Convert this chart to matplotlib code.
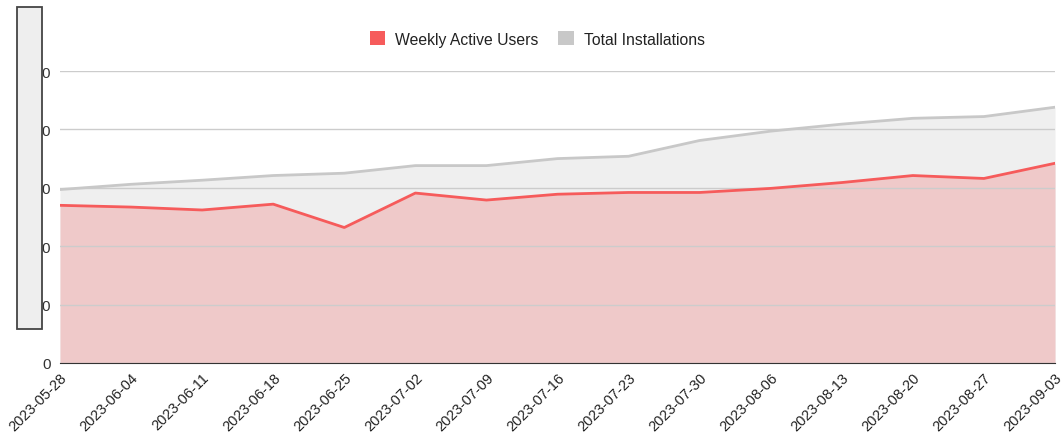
import numpy as np
import pandas as pd
import matplotlib
matplotlib.use("Agg")
from matplotlib import pyplot as plt
from matplotlib.patches import Patch, Rectangle

plt.rcParams["font.family"] = ["Liberation Sans", "DejaVu Sans"]

weeks = ["2023-05-28", "2023-06-04", "2023-06-11", "2023-06-18", "2023-06-25",
         "2023-07-02", "2023-07-09", "2023-07-16", "2023-07-23", "2023-07-30",
         "2023-08-06", "2023-08-13", "2023-08-20", "2023-08-27", "2023-09-03"]
weekly_active = [270, 267, 262, 272, 232, 291, 279, 289, 292, 292, 299, 309, 321, 316, 342]
total_installs = [297, 306, 313, 321, 325, 338, 338, 350, 354, 381, 397, 409, 419, 422, 438]
y_ticks = [0, 100, 200, 300, 400, 500]

dates = pd.to_datetime(weeks)

fig = plt.figure(figsize=(10.64, 4.39), dpi=100)
ax = fig.add_axes([60 / 1064, 75 / 439, 995 / 1064, 292 / 439])

# gray area first, red area on top
ax.fill_between(dates, total_installs, color="#efefef", zorder=1, lw=0)
ax.plot(dates, total_installs, color="#c8c8c8", lw=2, zorder=3)
ax.fill_between(dates, weekly_active, color="#efc9c9", zorder=2, lw=0)
ax.plot(dates, weekly_active, color="#f65b5b", lw=2, zorder=4)

ax.set_xlim(dates[0], dates[-1])
ax.set_ylim(0, 500)
ax.set_yticks(y_ticks)
ax.set_yticklabels([str(v) for v in y_ticks], fontsize=11, color="#333333")
ax.set_xticks(dates)
ax.set_xticklabels(weeks, rotation=45, ha="right", rotation_mode="anchor",
                   fontsize=10.5, color="#222222")
ax.tick_params(length=0)
ax.tick_params(axis="y", pad=6.5)
ax.tick_params(axis="x", pad=5)
ax.grid(axis="y", color="#cccccc", lw=1, zorder=2.5)
ax.set_axisbelow(False)
for s in ["top", "right", "left"]:
    ax.spines[s].set_visible(False)
ax.spines["bottom"].set_color("#333333")
ax.spines["bottom"].set_zorder(5)

handles = [Patch(facecolor="#f65b5b", edgecolor="none", label="Weekly Active Users"),
           Patch(facecolor="#c8c8c8", edgecolor="none", label="Total Installations")]
fig.legend(handles=handles, loc="center", bbox_to_anchor=(537 / 1064, 1 - 40 / 439),
           ncol=2, frameon=False, fontsize=11.3, handlelength=1.0, handleheight=1.0,
           handletextpad=0.6, columnspacing=1.3, labelcolor="#222222")

# gray box that hides the left part of the y labels
fig.patches.append(Rectangle((17 / 1064, 1 - 330 / 439), 25 / 1064, 322 / 439,
                             transform=fig.transFigure, facecolor="#eeeeee",
                             edgecolor="#444444", lw=1.3, zorder=10))

fig.savefig("out.png", dpi=100)
